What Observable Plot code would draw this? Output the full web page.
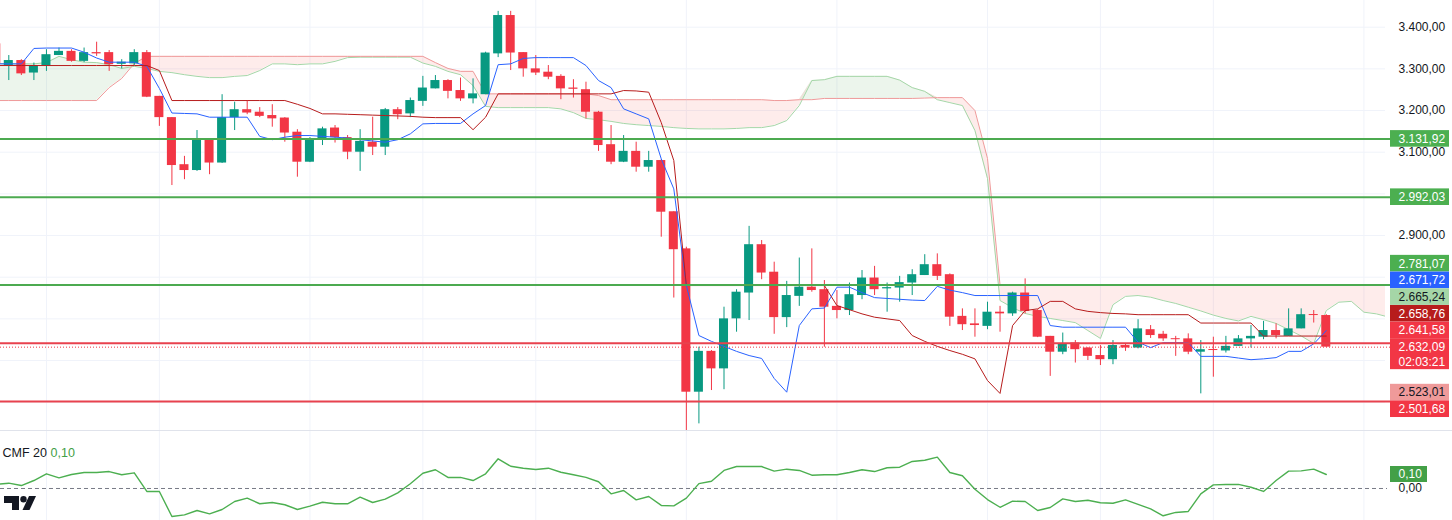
<!DOCTYPE html>
<html><head><meta charset="utf-8">
<script src="https://cdn.jsdelivr.net/npm/d3@7"></script>
<script src="https://cdn.jsdelivr.net/npm/@observablehq/plot@0.6"></script>
<style>
html,body{margin:0;padding:0;background:#fff;overflow:hidden;}
#chart{width:1452px;height:520px;position:relative;}
#cmf{border-top:1px solid #e0e3eb;}
svg{display:block;}
</style></head><body><div id="chart"><div id="main"></div><div id="cmf"></div></div>
<script>
// ---------------- DATA ----------------
const firstIndex = -1; // first candle is partly off the left edge
const candleOpen = [
 3360,3308,3320,3290,3308,3332,3342,3318,3339,3339,
 3311,3312,3339,3234,3183,3070,3056,3132,3074,3183,
 3202,3196,3188,3182,3148,3076,3130,3158,3135,3100,
 3124,3112,3202,3192,3222,3252,3272,3248,3228,3238,
 3336,3428,3339,3300,3292,3282,3254,3250,3196,3118,
 3076,3102,3064,3080,2957,2868,2524,2622,2580,2700,
 2762,2878,2812,2703,2754,2776,2770,2730,2720,2756,
 2798,2772,2774,2786,2804,2830,2806,2706,2688,2682,
 2716,2712,2762,2720,2658,2620,2642,2630,2612,2602,
 2636,2630,2674,2663,2652,2652,2620,2626,2623,2634,
 2652,2656,2672,2658,2676,2710,2708];
const candleHigh = [
 3372,3332,3322,3314,3346,3350,3346,3350,3364,3344,
 3322,3346,3344,3234,3183,3090,3152,3132,3238,3220,
 3224,3207,3214,3183,3154,3135,3160,3164,3140,3154,
 3184,3205,3207,3230,3282,3284,3274,3278,3276,3340,
 3438,3438,3339,3332,3308,3286,3274,3268,3198,3164,
 3140,3124,3102,3082,2957,2872,2632,2624,2728,2770,
 2922,2888,2836,2790,2846,2868,2792,2768,2786,2816,
 2826,2786,2802,2818,2854,2856,2808,2724,2724,2740,
 2730,2764,2796,2722,2658,2666,2648,2631,2636,2648,
 2640,2698,2684,2670,2658,2664,2648,2656,2658,2660,
 2684,2694,2688,2724,2724,2720,2710];
const candleLow = [
 3308,3272,3284,3272,3294,3332,3316,3315,3330,3294,
 3300,3308,3231,3162,3020,3034,3054,3046,3073,3152,
 3190,3183,3160,3124,3040,3075,3116,3122,3082,3054,
 3092,3092,3178,3183,3210,3252,3228,3222,3216,3238,
 3327,3296,3280,3284,3274,3226,3230,3180,3102,3070,
 3075,3052,3052,2896,2750,2432,2448,2528,2530,2668,
 2696,2794,2663,2679,2730,2764,2632,2700,2708,2746,
 2756,2716,2740,2756,2804,2792,2682,2672,2656,2674,
 2668,2706,2712,2655,2562,2614,2594,2600,2588,2590,
 2622,2628,2653,2646,2610,2614,2520,2560,2618,2634,
 2630,2650,2652,2658,2676,2690,2632.09];
const candleClose = [
 3312,3320,3288,3308,3334,3342,3318,3339,3336,3310,
 3316,3339,3232,3183,3068,3056,3132,3074,3183,3202,
 3194,3186,3180,3146,3076,3132,3156,3135,3100,3126,
 3112,3202,3190,3224,3254,3272,3246,3228,3240,3338,
 3428,3338,3300,3290,3280,3252,3251,3196,3116,3076,
 3102,3064,3080,2956,2866,2524,2622,2580,2700,2764,
 2878,2810,2703,2756,2776,2768,2728,2720,2758,2798,
 2770,2775,2787,2806,2830,2802,2704,2686,2684,2716,
 2712,2762,2718,2656,2620,2640,2626,2610,2602,2636,
 2630,2676,2660,2652,2650,2620,2626,2624,2634,2652,
 2658,2672,2660,2676,2710,2708,2632.09];
// Ichimoku conversion line (Tenkan) and base line (Kijun), one per candle
const tenkan = [
 3312,3312,3312,3349,3350,3350,3350,3340,3326,3316,
 3316,3316,3306,3253,3194,3193,3192,3184,3184,3184,
 3184,3138,3130,3136,3140,3140,3138,3136,3134,3130,
 3127,3124,3130,3144,3168,3169,3169,3169,3192,3212,
 3310,3312,3325,3327,3327,3327,3327,3308,3272,3255,
 3204,3192,3180,3084,3012,2780,2660,2646,2634,2622,
 2612,2605,2557,2524,2684,2724,2726,2776,2776,2763,
 2751,2749,2747,2745,2744,2778,2769,2763,2756,2756,
 2756,2756,2756,2756,2684,2680,2680,2680,2680,2680,
 2680,2644,2631,2643,2643,2643,2610,2610,2610,2606,
 2602,2604,2607,2622,2622,2640,2671.72];
const kijun = [
 3308,3308,3308,3308,3308,3308,3308,3308,3308,3308,
 3308,3308,3308,3296,3224,3224,3224,3224,3224,3224,
 3224,3224,3224,3224,3215,3205,3192,3192,3191,3190,
 3189,3188,3187,3186,3184,3183,3183,3183,3154,3184,
 3240,3240,3240,3240,3240,3240,3240,3240,3240,3240,
 3248,3247,3244,3171,3080,2780,2780,2780,2780,2780,
 2780,2780,2780,2780,2780,2780,2780,2732,2722,2712,
 2704,2700,2696,2660,2646,2634,2624,2615,2604,2552,
 2521,2684,2720,2724,2742,2742,2724,2718,2715,2713,
 2712,2710,2710,2710,2710,2710,2690,2690,2690,2690,
 2690,2658.76,2658.76,2658.76,2658.76,2658.76,2658.76];
// Leading spans as drawn (already displaced), one per slot from the left edge to the right edge
const spanA = [
 3313,3312,3312,3312,3315,3330,3322,3316,3315,3310,
 3301,3306,3301,3294,3291,3286,3282,3279,3279,3282,
 3284,3296,3312,3312,3310,3312,3312,3318,3327,3328,
 3328,3328,3328,3328,3314,3306,3294,3286,3260,3210,
 3207,3207,3207,3207,3207,3204,3195,3181,3178,3174,
 3169,3166,3164,3162,3159,3157,3156,3156,3156,3157,
 3159,3159,3164,3176,3212,3272,3274,3282,3282,3282,
 3282,3282,3273,3255,3246,3226,3219,3212,3152,3037,
 2744,2727,2713,2706,2701,2696,2691,2672,2653,2734,
 2754,2756,2752,2744,2737,2728,2719,2709,2701,2695,
 2706,2698,2689,2674,2659,2641,2720,2740,2742,2716,
 2712,2704];
const spanB = [
 3224,3224,3224,3224,3224,3224,3224,3224,3224,3255,
 3277,3313,3330,3330,3330,3330,3330,3330,3330,3330,
 3330,3330,3330,3330,3330,3330,3330,3330,3330,3330,
 3330,3330,3330,3330,3330,3315,3301,3294,3294,3240,
 3240,3240,3240,3240,3240,3240,3240,3240,3236,3226,
 3226,3226,3226,3226,3226,3226,3226,3226,3226,3226,
 3226,3226,3224,3224,3226,3226,3229,3229,3229,3229,
 3229,3229,3229,3229,3230,3231,3231,3231,3200,3085,
 2781,2781,2781,2781,2781,2781,2781,2781,2781,2781,
 2781,2781,2781,2781,2781,2781,2781,2781,2781,2781,
 2781,2781,2781,2781,2781,2781,2781,2781,2781,2781,
 2781,2781];
// Chaikin Money Flow (20), one per candle
const cmfValues = [
 0.03,0.038,0.021,0.057,0.105,0.076,0.10,0.114,0.114,0.121,
 0.098,0.112,-0.021,-0.021,-0.20,-0.188,-0.157,-0.181,-0.15,-0.093,
 -0.069,-0.109,-0.10,-0.116,-0.15,-0.126,-0.098,-0.109,-0.109,-0.062,
 -0.10,-0.076,-0.031,0.034,0.109,0.134,0.079,0.079,0.057,0.105,
 0.212,0.159,0.145,0.136,0.145,0.116,0.098,0.079,0.048,-0.038,
 -0.014,-0.081,-0.057,-0.121,-0.124,-0.069,0.035,0.052,0.129,0.157,
 0.157,0.157,0.124,0.138,0.129,0.095,0.098,0.098,0.114,0.134,
 0.121,0.148,0.152,0.193,0.202,0.224,0.114,0.091,-0.005,-0.079,
 -0.134,-0.091,-0.093,-0.157,-0.136,-0.074,-0.093,-0.084,-0.102,-0.105,
 -0.081,-0.114,-0.145,-0.195,-0.171,-0.164,-0.038,0.026,0.029,0.029,
 0.009,-0.021,0.057,0.124,0.126,0.138,0.10];
const greenLevels = [3131.92, 2992.03, 2781.07];
const redLevels = [2641.58, 2501.68];
const currentPrice = 2632.09;
const countdown = "02:03:21";
const tenkanLabel = 2671.72, spanALabel = 2665.24, kijunLabel = 2658.76, spanBLabel = 2523.01;
const priceTicks = [3400, 3300, 3200, 3100, 3000, 2900, 2800, 2700, 2600, 2500];
const gridIndices = [3, 12, 24, 33, 42, 54, 66, 78, 87, 96, 108];
const cmfTitle = "CMF 20";

// ---------------- STYLE / LAYOUT ----------------
const UP = "#089981", DOWN = "#f23645";
const GRID = "#f0f3fa";
const LVL_GREEN = "#4caa50", LVL_RED = "#e8424e";
const FONT = "'Liberation Sans', Arial, sans-serif";
const X_DOMAIN = [-0.6615, 109.72];
const Y_DOMAIN = [2432.08, 3464.08];
const CMF_DOMAIN = [-0.22857, 0.40714];
const xs = Plot.scale({x: {domain: X_DOMAIN, range: [0, 1385]}});
const ys = Plot.scale({y: {domain: Y_DOMAIN, range: [430, 0]}});
const ysC = Plot.scale({y: {domain: CMF_DOMAIN, range: [89, 0]}});
const loc = d3.formatLocale({decimal: ",", thousands: ".", grouping: [3], currency: ["", ""]});
const fmtPrice = loc.format(",.2f");
const fmt2 = loc.format(".2f");

const candles = candleOpen.map((o, k) => {
  const c = candleClose[k];
  const lo = Math.min(o, c);
  return {i: k + firstIndex, o, h: candleHigh[k], l: candleLow[k], c,
    b1: lo, b2: Math.max(Math.max(o, c), lo + 2.4),
    color: c >= o ? UP : DOWN,
    tenkan: tenkan[k], kijun: kijun[k], cmf: cmfValues[k]};
});
const cloud = spanA.map((a, k) => ({j: k + firstIndex, a, b: spanB[k], top: Math.max(a, spanB[k])}));

// price labels on the right scale, stacked around the current price like the reference
const labels = [
  {value: greenLevels[0], bg: "#4caf50", fg: "#fff"},
  {value: greenLevels[1], bg: "#4caf50", fg: "#fff"},
  {value: greenLevels[2], bg: "#4caf50", fg: "#fff"},
  {value: tenkanLabel, bg: "#2962ff", fg: "#fff"},
  {value: spanALabel, bg: "#a5d6a7", fg: "#131722"},
  {value: kijunLabel, bg: "#b71c1c", fg: "#fff"},
  {value: redLevels[0], bg: "#f23645", fg: "#fff"},
  {value: currentPrice, bg: "#f23645", fg: "#fff", current: true},
  {value: spanBLabel, bg: "#ef9a9a", fg: "#131722"},
  {value: redLevels[1], bg: "#f23645", fg: "#fff"}
];
const cur = labels.findIndex(d => d.current);
const p0 = ys.apply(currentPrice);
labels[cur].cy = p0; labels[cur].top = p0 - 8.5; labels[cur].bottom = p0 + 22.5;
let prev = p0;
for (let k = cur - 1; k >= 0; k--) {
  const c = Math.min(ys.apply(labels[k].value), prev - 16.7);
  labels[k].cy = c; labels[k].top = c - 8.3; labels[k].bottom = c + 8.3; prev = c;
}
let prevBottom = p0 + 22.5;
for (let k = cur + 1; k < labels.length; k++) {
  const c = Math.max(ys.apply(labels[k].value), prevBottom + 8.3);
  labels[k].cy = c; labels[k].top = c - 8.3; labels[k].bottom = c + 8.3; prevBottom = c + 8.3;
}
// axis ticks that are mostly hidden behind a label box are not printed (as on the reference)
const visibleTicks = priceTicks.filter(t => {
  const py = ys.apply(t);
  return labels.every(l => py < l.top - 3 || py > l.bottom + 3);
});
const LX1 = xs.invert(1390), LX2 = xs.invert(1449), LTX = xs.invert(1398), LINE_END = xs.invert(1390);

const main = Plot.plot({
  width: 1452, height: 430, marginLeft: 0, marginRight: 67, marginTop: 0, marginBottom: 0,
  x: {domain: X_DOMAIN, axis: null},
  y: {domain: Y_DOMAIN, axis: null},
  color: {type: "identity"},
  style: {fontFamily: FONT, background: "#fff", overflow: "hidden"},
  marks: [
    Plot.ruleY(priceTicks, {stroke: GRID}),
    Plot.ruleX(gridIndices, {stroke: GRID}),
    Plot.areaY(cloud, {x: "j", y1: "b", y2: "top", fill: "#43a047", fillOpacity: 0.1, clip: true}),
    Plot.areaY(cloud, {x: "j", y1: "a", y2: "top", fill: "#f44336", fillOpacity: 0.1, clip: true}),
    Plot.line(cloud, {x: "j", y: "a", stroke: "#a5d6a7", strokeWidth: 1, clip: true}),
    Plot.line(cloud, {x: "j", y: "b", stroke: "#ef9a9a", strokeWidth: 1, clip: true}),
    Plot.ruleX(candles, {x: "i", y1: "l", y2: "h", stroke: "color", strokeWidth: 1, clip: true}),
    Plot.rect(candles, {x1: d => d.i - 0.36, x2: d => d.i + 0.36, y1: "b1", y2: "b2", fill: "color", clip: true}),
    Plot.line(candles, {x: "i", y: "tenkan", stroke: "#2962ff", strokeWidth: 1, clip: true}),
    Plot.line(candles, {x: "i", y: "kijun", stroke: "#b71c1c", strokeWidth: 1, clip: true}),
    Plot.ruleY(greenLevels, {x1: () => X_DOMAIN[0], x2: () => LINE_END, stroke: LVL_GREEN, strokeWidth: 2}),
    Plot.ruleY(redLevels, {x1: () => X_DOMAIN[0], x2: () => LINE_END, stroke: LVL_RED, strokeWidth: 2}),
    Plot.ruleY([currentPrice], {x1: () => X_DOMAIN[0], x2: () => LINE_END, stroke: "#f23645", strokeWidth: 1, strokeDasharray: "1,2"}),
    Plot.text(visibleTicks, {x: () => LTX, y: d => d, text: d => fmtPrice(d), textAnchor: "start", fill: "#131722", fontSize: 12}),
    Plot.rect(labels, {x1: () => LX1, x2: () => LX2, y1: d => ys.invert(d.top), y2: d => ys.invert(d.bottom), fill: "bg"}),
    Plot.text(labels, {x: () => LTX, y: d => ys.invert(d.cy), text: d => fmtPrice(d.value), textAnchor: "start", fill: "fg", fontSize: 12}),
    Plot.text([countdown], {x: () => LTX, y: () => ys.invert(p0 + 15), text: d => d, textAnchor: "start", fill: "#fff", fontSize: 12})
  ]
});
document.getElementById("main").appendChild(main);

const cmfLast = cmfValues[cmfValues.length - 1];
const cmfLabelY = ysC.apply(cmfLast);
const cmfPlot = Plot.plot({
  width: 1452, height: 89, marginLeft: 0, marginRight: 67, marginTop: 0, marginBottom: 0,
  x: {domain: X_DOMAIN, axis: null},
  y: {domain: CMF_DOMAIN, axis: null},
  color: {type: "identity"},
  style: {fontFamily: FONT, background: "#fff", overflow: "hidden"},
  marks: [
    Plot.ruleX(gridIndices, {stroke: GRID}),
    Plot.ruleY([0], {x1: () => X_DOMAIN[0], x2: () => xs.invert(1387), stroke: "#787b86", strokeDasharray: "4,3", strokeWidth: 1}),
    Plot.line(candles, {x: "i", y: "cmf", stroke: "#4caf50", strokeWidth: 1.4, clip: true}),
    Plot.text([0], {x: () => LTX, y: d => d, text: d => fmt2(d), textAnchor: "start", fill: "#131722", fontSize: 12}),
    Plot.rect([cmfLast], {x1: () => LX1, x2: () => xs.invert(1427), y1: () => ysC.invert(cmfLabelY - 8), y2: () => ysC.invert(cmfLabelY + 8), fill: "#43a047"}),
    Plot.text([cmfLast], {x: () => LTX, y: d => d, text: d => fmt2(d), textAnchor: "start", fill: "#fff", fontSize: 12}),
    Plot.text([cmfTitle], {frameAnchor: "top-left", dx: 2, dy: 17, textAnchor: "start", fill: "#131722", fontSize: 12.5}),
    Plot.text([cmfLast], {frameAnchor: "top-left", dx: 50, dy: 17, text: d => fmt2(d), textAnchor: "start", fill: "#43a047", fontSize: 12.5})
  ]
});
document.getElementById("cmf").appendChild(cmfPlot);
// TradingView logo mark
const lg = d3.select(cmfPlot).append("g").attr("fill", "#131722");
lg.append("path").attr("d", "M4 65 H19 V79 H12 V72 H4 Z");
lg.append("circle").attr("cx", 23.5).attr("cy", 68.3).attr("r", 3.2);
lg.append("path").attr("d", "M29 65 H36 L29.5 79 H22.5 Z");
</script></body></html>
